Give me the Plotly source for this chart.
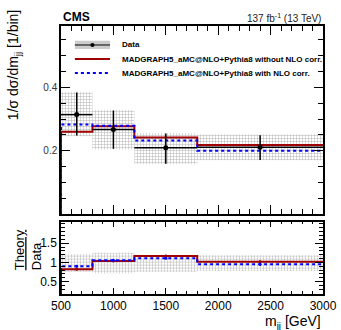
import plotly.graph_objects as go

# binning (GeV)
bin_edges = [500, 800, 1200, 1800, 3000]
bin_centers = [650, 1000, 1500, 2400]
bin_widths = [300, 400, 600, 1200]

# normalised cross section, data
data_y = [0.314, 0.267, 0.209, 0.211]
data_hi = [0.384, 0.327, 0.254, 0.249]
data_lo = [0.248, 0.206, 0.159, 0.171]
band_hi = [0.386, 0.329, 0.256, 0.252]
band_lo = [0.246, 0.204, 0.157, 0.170]

# MC predictions
mc_noNLO = [0.260, 0.277, 0.242, 0.218]
mc_NLO = [0.283, 0.279, 0.232, 0.200]

# ratio panel
ratio_band_hi = [1.22, 1.25, 1.17, 1.19]
ratio_band_lo = [0.76, 0.72, 0.76, 0.78]
ratio_noNLO = [0.82, 1.04, 1.17, 1.02]
ratio_NLO = [0.90, 1.06, 1.11, 0.95]
ratio_err = [0.02, 0.02, 0.03, 0.04]

legend_labels = ["Data",
                 "MADGRAPH5_aMC@NLO+Pythia8 without NLO corr.",
                 "MADGRAPH5_aMC@NLO+Pythia8 with NLO corr."]

RED = "#a00000"
BLUE = "#0000ff"
BAND = "#dcdcdc"
FONT = "Liberation Sans"


def step(vals):
    # histogram outline starting from zero at the first edge
    xs = [bin_edges[0]] + bin_edges
    ys = [0] + vals + [vals[-1]]
    return xs, ys


def band_bar(lo, hi, xa, ya):
    return go.Bar(
        x=bin_centers, width=bin_widths, base=lo,
        y=[h - l for h, l in zip(hi, lo)],
        marker=dict(color=BAND, line=dict(width=0),
                    pattern=dict(shape="+", fgcolor="#b0b0b0", size=3, solidity=0.3)),
        showlegend=False, xaxis=xa, yaxis=ya,
    )


fig = go.Figure()

# top panel
fig.add_trace(band_bar(band_lo, band_hi, "x", "y"))
xs, ys = step(mc_noNLO)
fig.add_trace(go.Scatter(x=xs, y=ys, mode="lines", line=dict(color=RED, width=2, shape="hv"),
                         showlegend=False, xaxis="x", yaxis="y"))
xs, ys = step(mc_NLO)
fig.add_trace(go.Scatter(x=xs, y=ys, mode="lines", line=dict(color=BLUE, width=2, shape="hv", dash="dot"),
                         showlegend=False, xaxis="x", yaxis="y"))
fig.add_trace(go.Scatter(
    x=bin_centers, y=data_y, mode="markers",
    marker=dict(color="black", size=5),
    error_y=dict(type="data", symmetric=False,
                 array=[h - v for h, v in zip(data_hi, data_y)],
                 arrayminus=[v - l for v, l in zip(data_y, data_lo)],
                 color="black", thickness=1.5, width=0),
    error_x=dict(type="data", array=[w / 2 for w in bin_widths], color="black", thickness=1.5, width=0),
    showlegend=False, xaxis="x", yaxis="y",
))

# ratio panel
fig.add_trace(band_bar(ratio_band_lo, ratio_band_hi, "x2", "y2"))
xs, ys = step(ratio_noNLO)
fig.add_trace(go.Scatter(x=xs, y=ys, mode="lines", line=dict(color=RED, width=2, shape="hv"),
                         showlegend=False, xaxis="x2", yaxis="y2"))
fig.add_trace(go.Scatter(x=bin_centers, y=ratio_noNLO, mode="markers", marker=dict(color=RED, size=3),
                         error_y=dict(array=ratio_err, color=RED, thickness=1.5, width=0),
                         showlegend=False, xaxis="x2", yaxis="y2"))
xs, ys = step(ratio_NLO)
fig.add_trace(go.Scatter(x=xs, y=ys, mode="lines", line=dict(color=BLUE, width=2, shape="hv", dash="dot"),
                         showlegend=False, xaxis="x2", yaxis="y2"))
fig.add_trace(go.Scatter(x=bin_centers, y=ratio_NLO, mode="markers", marker=dict(color=BLUE, size=3),
                         error_y=dict(array=ratio_err, color=BLUE, thickness=1.5, width=0),
                         showlegend=False, xaxis="x2", yaxis="y2"))

# hand-made legend (ROOT style, tight rows)
rows = [0.899, 0.824, 0.75]
sx0, sx1, tx = 0.053, 0.187, 0.225
shapes = [
    dict(type="rect", xref="x domain", yref="y domain", x0=sx0, x1=sx1,
         y0=rows[0] - 0.022, y1=rows[0] + 0.022, fillcolor="#cccccc", line=dict(width=0)),
    dict(type="line", xref="x domain", yref="y domain", x0=sx0, x1=sx1,
         y0=rows[0], y1=rows[0], line=dict(color="black", width=1)),
    dict(type="circle", xref="x domain", yref="y domain", x0=(sx0 + sx1) / 2 - 0.008,
         x1=(sx0 + sx1) / 2 + 0.008, y0=rows[0] - 0.011, y1=rows[0] + 0.011,
         fillcolor="black", line=dict(width=0)),
    dict(type="line", xref="x domain", yref="y domain", x0=sx0, x1=sx1,
         y0=rows[1], y1=rows[1], line=dict(color=RED, width=2)),
    dict(type="line", xref="x domain", yref="y domain", x0=sx0, x1=sx1,
         y0=rows[2], y1=rows[2], line=dict(color=BLUE, width=2, dash="dot")),
]
annotations = [
    dict(text="<b>%s</b>" % lab, x=tx, y=r, xref="x domain", yref="y domain",
         xanchor="left", yanchor="middle", showarrow=False, font=dict(size=8))
    for lab, r in zip(legend_labels, rows)
]
annotations += [
    dict(text="<b>CMS</b>", x=0, y=1, xref="paper", yref="paper", xanchor="left", yanchor="bottom",
         showarrow=False, font=dict(size=12)),
    dict(text="137 fb<sup>-1</sup> (13 TeV)", x=1, y=1, xref="paper", yref="paper",
         xanchor="right", yanchor="bottom", showarrow=False, font=dict(size=10, color="#222")),
    dict(text="1/σ dσ/dm<sub>jj</sub> [1/bin]", x=-0.179, y=1.067, xref="paper", yref="paper",
         xanchor="center", yanchor="top", textangle=-90, showarrow=False, font=dict(size=14)),
    dict(text="<u>Theory</u><br>Data", x=-0.127, y=0.166, xref="paper", yref="paper",
         xanchor="center", yanchor="middle", textangle=-90, align="left", showarrow=False,
         font=dict(size=13)),
    dict(text="m<sub>jj</sub> [GeV]", x=1, y=-0.104, xref="paper", yref="paper",
         xanchor="right", yanchor="middle", showarrow=False, font=dict(size=14)),
]

axis_common = dict(showline=True, linecolor="black", linewidth=1.5, mirror="allticks",
                   ticks="inside", tickcolor="black", showgrid=False, zeroline=False,
                   automargin=False)

fig.update_layout(
    template="none",
    width=341, height=330,
    margin=dict(l=61, r=18, t=26, b=36, autoexpand=False),
    paper_bgcolor="white", plot_bgcolor="white",
    font=dict(family=FONT, color="black"),
    barmode="overlay",
    showlegend=False,
    xaxis=dict(domain=[0, 1], range=[500, 3000], anchor="y", matches="x2", showticklabels=False,
               tickvals=[500, 1000, 1500, 2000, 2500, 3000], ticklen=9,
               minor=dict(dtick=100, ticks="inside", ticklen=5, tickcolor="black"),
               **axis_common),
    yaxis=dict(domain=[0.2985, 1], range=[0, 0.594], anchor="x",
               tickvals=[0.2, 0.4], ticktext=["0.2", "0.4"], ticklen=9,
               tickfont=dict(size=10, color="#333"),
               minor=dict(dtick=0.05, ticks="inside", ticklen=5, tickcolor="black"),
               **axis_common),
    xaxis2=dict(domain=[0, 1], range=[500, 3000], anchor="y2",
                tickvals=[500, 1000, 1500, 2000, 2500, 3000], ticklen=6,
                tickfont=dict(size=12), ticklabeloverflow="allow",
                minor=dict(dtick=100, ticks="inside", ticklen=3, tickcolor="black"),
                **axis_common),
    yaxis2=dict(domain=[0, 0.27], range=[0.18, 2.06], anchor="x2",
                tickvals=[0.5, 1, 1.5], ticktext=["0.5", "1", "1.5"], ticklen=8,
                tickfont=dict(size=12),
                minor=dict(dtick=0.1, ticks="inside", ticklen=4, tickcolor="black"),
                **axis_common),
    shapes=shapes,
    annotations=annotations,
)

# drop the default page margin so the figure sits at the window's corner
fig.write_html("out.html", config=dict(displayModeBar=False),
               post_script="document.body.style.margin='0';")
